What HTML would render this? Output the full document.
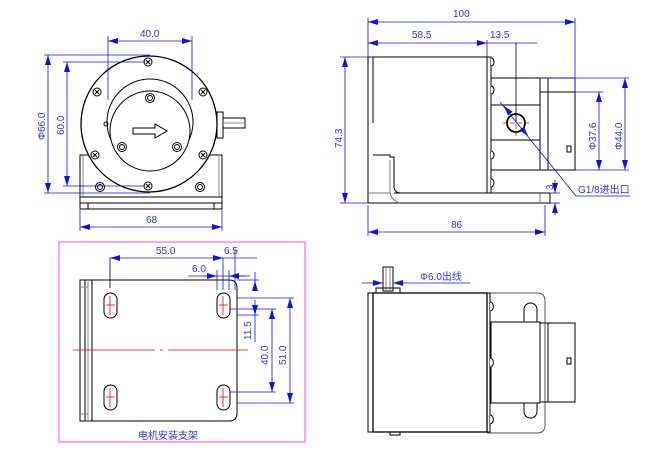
<!DOCTYPE html>
<html><head><meta charset="utf-8"><style>
html,body{margin:0;padding:0;background:#fff;}
svg{display:block;}
text{font-family:"Liberation Sans","Noto Sans CJK SC",sans-serif;font-size:10px;fill:#3030e0;}
</style></head><body>
<svg width="664" height="470" viewBox="0 0 664 470" xmlns="http://www.w3.org/2000/svg">
<defs>
<marker id="a" viewBox="0 0 10 6" refX="10" refY="3" markerWidth="10" markerHeight="6" orient="auto-start-reverse" markerUnits="userSpaceOnUse"><path d="M0,0 L10,3 L0,6z" fill="#1010ee"/></marker>
<g id="scr"><circle r="4" fill="#fff" stroke="#000" stroke-width="1"/><path d="M-2,-2 L2,2 M-2,2 L2,-2" stroke="#000" stroke-width="1"/></g>
<g id="isc"><circle r="4.5" fill="#fff" stroke="#000" stroke-width="1"/><circle r="2.5" fill="none" stroke="#000" stroke-width="1"/></g>
</defs>

<!-- ===== FRONT VIEW ===== -->
<g stroke="#000" fill="none" stroke-width="1">
<rect x="80" y="155" width="142" height="42"/>
<line x1="83" y1="155" x2="83" y2="197" stroke="#888"/>
<line x1="219" y1="155" x2="219" y2="197" stroke="#888"/>
<rect x="80" y="197" width="142" height="12"/>
<line x1="80" y1="203" x2="222" y2="203"/>
<line x1="88" y1="203" x2="88" y2="209"/><line x1="214" y1="203" x2="214" y2="209"/>
<circle cx="100" cy="187" r="4.5"/><circle cx="100" cy="187" r="2.5"/>
<circle cx="200" cy="187" r="4.5"/><circle cx="200" cy="187" r="2.5"/>
<circle cx="149" cy="124" r="68" fill="#fff" stroke-width="1.3"/>
<circle cx="150" cy="122" r="43"/>
<circle cx="150" cy="131" r="40" fill="#fff"/>
<rect x="217" y="112" width="6" height="26"/>
<rect x="223" y="118" width="22" height="10"/>
<line x1="223" y1="123" x2="245" y2="123" stroke="#888"/>
<circle cx="106" cy="124" r="2"/>
<path d="M133,128 L155,128 L155,124 L167,131 L155,138 L155,134 L133,134 Z"/>
</g>
<use href="#scr" x="148" y="62"/><use href="#scr" x="148" y="186"/>
<use href="#scr" x="97" y="92"/><use href="#scr" x="203" y="92"/>
<use href="#scr" x="95" y="155"/><use href="#scr" x="203" y="155"/>
<use href="#isc" x="150" y="98"/><use href="#isc" x="122" y="147"/><use href="#isc" x="177" y="147"/>
<g stroke="#1010ee" stroke-width="0.8" fill="none">
<line x1="108" y1="36" x2="108" y2="100"/><line x1="192" y1="36" x2="192" y2="100"/>
<line x1="108" y1="41" x2="192" y2="41" marker-start="url(#a)" marker-end="url(#a)"/>
<line x1="44" y1="55" x2="150" y2="55"/><line x1="44" y1="193" x2="150" y2="193"/>
<line x1="48" y1="55" x2="48" y2="193" marker-start="url(#a)" marker-end="url(#a)"/>
<line x1="63" y1="62" x2="145" y2="62"/><line x1="63" y1="186" x2="145" y2="186"/>
<line x1="67" y1="62" x2="67" y2="186" marker-start="url(#a)" marker-end="url(#a)"/>
<line x1="80" y1="210" x2="80" y2="231"/><line x1="222" y1="210" x2="222" y2="231"/>
<line x1="80" y1="227" x2="222" y2="227" marker-start="url(#a)" marker-end="url(#a)"/>
</g>
<text x="140" y="37">40.0</text>
<text x="146" y="223">68</text>
<text transform="translate(45,140) rotate(-90)">Φ66.0</text>
<text transform="translate(64,135) rotate(-90)">60.0</text>

<!-- ===== SIDE VIEW ===== -->
<g stroke="#000" fill="none" stroke-width="1">
<path d="M368,57 L368,203 L550,203 L550,193"/>
<line x1="368" y1="57" x2="373" y2="57"/>
<line x1="368" y1="193" x2="390" y2="193" stroke="#777"/>
<path d="M373,57 V123"/>
<path d="M373,155 H390 V157 H394 V186 Q394,193 401,193 H550"/>
<path d="M390,160 V190 Q390,200 400,203" stroke="#777"/>
<line x1="540" y1="193" x2="540" y2="203" stroke="#777"/>
<path d="M373,57 H487 V193 H394"/>
<rect x="487" y="57" width="4" height="136" fill="#fff"/>
<rect x="491" y="78" width="49" height="92"/>
<line x1="491" y1="105" x2="540" y2="105"/><line x1="491" y1="140" x2="540" y2="140"/>
<rect x="540" y="78" width="35" height="92"/>
<line x1="548" y1="78" x2="548" y2="170"/>
<line x1="540" y1="92" x2="575" y2="92"/>
<rect x="567" y="146" width="4" height="6"/>
<circle cx="516" cy="123" r="9" stroke-width="1.8"/>
</g>
<g fill="#fff" stroke="#000"><path d="M491,58 a3,4 0 0 1 0,8"/><path d="M491,86 a3,4 0 0 1 0,8"/><path d="M491,151 a3,4 0 0 1 0,8"/><path d="M491,179 a3,4 0 0 1 0,8"/></g>
<g stroke="#f00" stroke-width="0.8"><line x1="503" y1="123" x2="529" y2="123" stroke-dasharray="5,2"/><line x1="516" y1="110" x2="516" y2="136" stroke-dasharray="5,2"/></g>
<g stroke="#1010ee" stroke-width="0.8" fill="none">
<line x1="368" y1="18" x2="368" y2="57"/><line x1="575" y1="18" x2="575" y2="92"/>
<line x1="368" y1="22" x2="575" y2="22" marker-start="url(#a)" marker-end="url(#a)"/>
<line x1="487" y1="40" x2="487" y2="57"/>
<line x1="368" y1="43" x2="487" y2="43" marker-start="url(#a)" marker-end="url(#a)"/>
<line x1="487" y1="43" x2="537" y2="43"/>
<line x1="516" y1="43" x2="516" y2="123" stroke="#000"/>
<line x1="340" y1="57" x2="373" y2="57"/><line x1="340" y1="203" x2="368" y2="203"/>
<line x1="345" y1="57" x2="345" y2="203" marker-start="url(#a)" marker-end="url(#a)"/>
<line x1="368" y1="205" x2="368" y2="236"/><line x1="545" y1="205" x2="545" y2="236"/>
<line x1="368" y1="232" x2="545" y2="232" marker-start="url(#a)" marker-end="url(#a)"/>
<line x1="550" y1="193" x2="560" y2="193"/><line x1="550" y1="203" x2="560" y2="203"/>
<line x1="555" y1="180" x2="555" y2="193" marker-end="url(#a)"/><line x1="555" y1="215" x2="555" y2="203" marker-end="url(#a)"/>
<line x1="575" y1="92" x2="603" y2="92"/><line x1="575" y1="170" x2="629" y2="170"/>
<line x1="599" y1="92" x2="599" y2="170" marker-start="url(#a)" marker-end="url(#a)"/>
<line x1="540" y1="78" x2="629" y2="78"/>
<line x1="625" y1="78" x2="625" y2="170" marker-start="url(#a)" marker-end="url(#a)"/>
<line x1="500" y1="102" x2="576" y2="196"/><line x1="576" y1="196" x2="630" y2="196"/>
<line x1="504" y1="106" x2="509" y2="112" marker-start="url(#a)"/>
<line x1="528" y1="136" x2="523" y2="130" marker-start="url(#a)"/>
</g>
<text x="453" y="17">100</text>
<text x="412" y="38">58.5</text>
<text x="490" y="38">13.5</text>
<text x="451" y="228">86</text>
<text transform="translate(342,148) rotate(-90)">74.3</text>
<text transform="translate(553,190) rotate(-90)" font-size="9">3</text>
<text transform="translate(596,150) rotate(-90)">Φ37.6</text>
<text transform="translate(622,150) rotate(-90)">Φ44.0</text>
<text x="578" y="193" font-size="9">G1/8进出口</text>

<!-- ===== PLAN VIEW ===== -->
<rect x="59" y="242" width="246" height="200" fill="none" stroke="#ff44ff" stroke-width="1"/>
<g stroke="#000" fill="none" stroke-width="1">
<path d="M80,280 L229,280 Q237,280 237,288 L237,413 Q237,421 229,421 L80,421 Z"/>
<line x1="85" y1="280" x2="85" y2="421"/><line x1="88" y1="280" x2="88" y2="421" stroke="#888"/><line x1="92" y1="280" x2="92" y2="421"/>
<line x1="80" y1="287" x2="88" y2="287" stroke="#888"/><line x1="80" y1="414" x2="88" y2="414" stroke="#888"/>
<rect x="104" y="293" width="13" height="25" rx="6.5"/>
<rect x="217" y="293" width="13" height="25" rx="6.5"/>
<rect x="104" y="385" width="13" height="25" rx="6.5"/>
<rect x="217" y="385" width="13" height="25" rx="6.5"/>
</g>
<g stroke="#f00" stroke-width="0.8">
<line x1="110" y1="296" x2="110" y2="315"/><line x1="106" y1="305" x2="115" y2="305"/>
<line x1="223" y1="296" x2="223" y2="315"/><line x1="219" y1="305" x2="228" y2="305"/>
<line x1="110" y1="388" x2="110" y2="407"/><line x1="106" y1="397" x2="115" y2="397"/>
<line x1="223" y1="388" x2="223" y2="407"/><line x1="219" y1="397" x2="228" y2="397"/>
<line x1="73" y1="350" x2="155" y2="350"/><line x1="160" y1="350" x2="163" y2="350"/><line x1="168" y1="350" x2="248" y2="350"/>
</g>
<g stroke="#1010ee" stroke-width="0.8" fill="none">
<line x1="110" y1="258" x2="110" y2="288" stroke="#000"/>
<line x1="110" y1="258" x2="223" y2="258" marker-start="url(#a)" marker-end="url(#a)"/>
<line x1="223" y1="258" x2="257" y2="258"/>
<line x1="223" y1="258" x2="223" y2="290"/><line x1="235" y1="250" x2="235" y2="290"/>
<line x1="217" y1="270" x2="217" y2="290"/><line x1="229" y1="270" x2="229" y2="290"/>
<line x1="188" y1="276" x2="250" y2="276"/>
<line x1="203" y1="276" x2="217" y2="276" marker-end="url(#a)"/><line x1="245" y1="276" x2="229" y2="276" marker-end="url(#a)"/>
<line x1="237" y1="315" x2="259" y2="315"/>
<line x1="255" y1="272" x2="255" y2="290"/>
<line x1="255" y1="290" x2="255" y2="281" marker-end="url(#a)"/><line x1="255" y1="300" x2="255" y2="315" marker-end="url(#a)"/><line x1="255" y1="315" x2="255" y2="342"/>
<line x1="237" y1="280" x2="259" y2="280"/>
<line x1="230" y1="309" x2="276" y2="309"/><line x1="230" y1="392" x2="276" y2="392"/>
<line x1="272" y1="309" x2="272" y2="392" marker-start="url(#a)" marker-end="url(#a)"/>
<line x1="237" y1="298" x2="294" y2="298"/><line x1="237" y1="403" x2="294" y2="403"/>
<line x1="290" y1="298" x2="290" y2="403" marker-start="url(#a)" marker-end="url(#a)"/>
</g>
<text x="156" y="254">55.0</text>
<text x="224" y="254">6.5</text>
<text x="192" y="272">6.0</text>
<text transform="translate(251,340) rotate(-90)">11.5</text>
<text transform="translate(268,365) rotate(-90)">40.0</text>
<text transform="translate(286,365) rotate(-90)">51.0</text>
<text x="138" y="439">电机安装支架</text>

<!-- ===== BOTTOM VIEW ===== -->
<g stroke="#000" fill="none" stroke-width="1">
<path d="M487,293 L537,293 Q545,293 545,301 L545,425 Q545,433 537,433 L487,433" stroke="#555"/>
<rect x="524" y="303" width="13" height="25" rx="6.5"/>
<rect x="524" y="390" width="13" height="28" rx="6.5"/>
<rect x="491" y="322" width="49" height="81" fill="#fff"/>
<rect x="540" y="323" width="8" height="79"/>
<rect x="548" y="323" width="27" height="79"/>
<rect x="567" y="358" width="4" height="6"/>
<rect x="383" y="267" width="10" height="24"/>
<line x1="386" y1="267" x2="386" y2="291" stroke="#888"/><line x1="390" y1="267" x2="390" y2="291" stroke="#888"/>
<rect x="376" y="288" width="24" height="5"/>
<rect x="368" y="293" width="5" height="139"/>
<rect x="373" y="293" width="114" height="139" stroke-width="1.3"/>
<rect x="487" y="293" width="3" height="139"/>
<rect x="390" y="432" width="10" height="3"/>
</g>
<g fill="#fff" stroke="#000"><path d="M490,302 a3,4 0 0 1 0,9"/><path d="M490,358 a3,4 0 0 1 0,9"/><path d="M490,415 a3,4 0 0 1 0,9"/></g>
<g stroke="#1010ee" stroke-width="0.8">
<line x1="362" y1="283" x2="383" y2="283" marker-end="url(#a)"/>
<line x1="413" y1="283" x2="393" y2="283" marker-end="url(#a)"/>
<line x1="413" y1="283" x2="470" y2="283"/>
</g>
<text x="420" y="280">Φ6.0出线</text>
</svg>
</body></html>
